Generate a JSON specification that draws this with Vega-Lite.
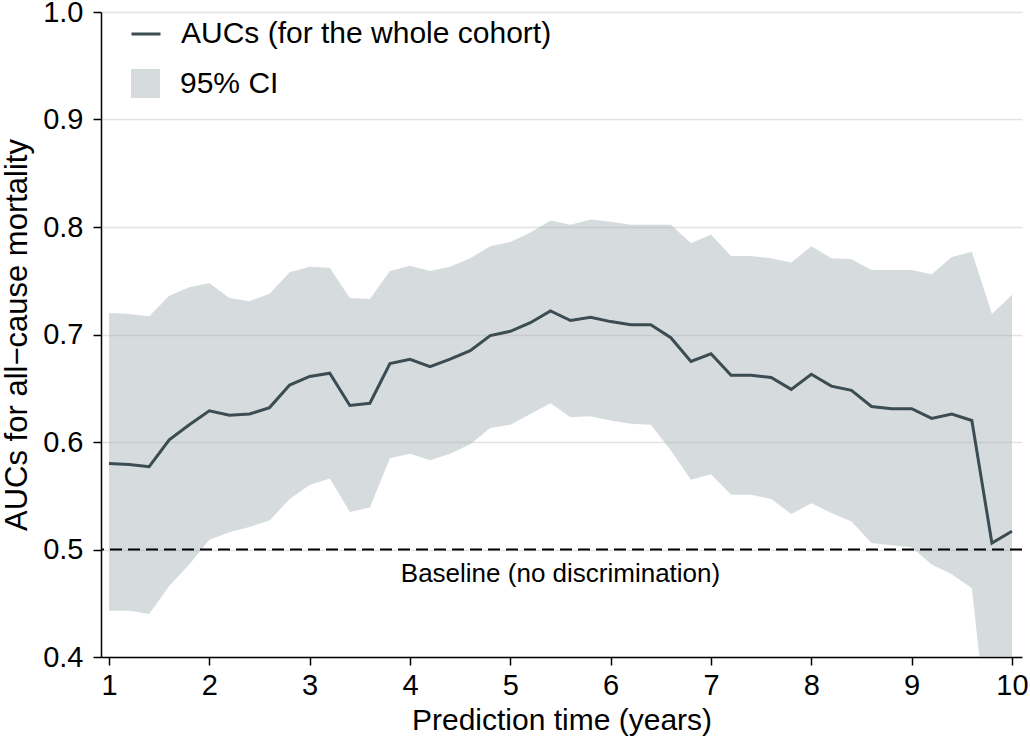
{
  "$schema": "https://vega.github.io/schema/vega-lite/v6.json",
  "width": 921,
  "height": 645,
  "autosize": "none",
  "padding": {"left": 101, "top": 12, "right": 8, "bottom": 86},
  "background": "white",
  "config": {
    "view": {"stroke": null},
    "font": "Liberation Sans",
    "axis": {
      "domainColor": "black", "domainWidth": 1.5, "tickColor": "black", "tickWidth": 1.5, "tickSize": 8,
      "labelFont": "Liberation Sans", "labelFontSize": 29, "labelColor": "black",
      "titleFont": "Liberation Sans", "titleFontSize": 30, "titleFontWeight": "normal", "titleColor": "black"
    },
    "legend": {"labelFont": "Liberation Sans", "labelFontSize": 30, "labelColor": "black", "padding": 0, "labelLimit": 600}
  },
  "datasets": {
    "auc": [
      {"t": 1.0, "auc": 0.580, "lo": 0.443, "hi": 0.720},
      {"t": 1.2, "auc": 0.579, "lo": 0.443, "hi": 0.719},
      {"t": 1.4, "auc": 0.577, "lo": 0.440, "hi": 0.717},
      {"t": 1.6, "auc": 0.602, "lo": 0.466, "hi": 0.736},
      {"t": 1.8, "auc": 0.616, "lo": 0.486, "hi": 0.744},
      {"t": 2.0, "auc": 0.629, "lo": 0.509, "hi": 0.748},
      {"t": 2.2, "auc": 0.625, "lo": 0.516, "hi": 0.734},
      {"t": 2.4, "auc": 0.626, "lo": 0.521, "hi": 0.731},
      {"t": 2.6, "auc": 0.632, "lo": 0.527, "hi": 0.738},
      {"t": 2.8, "auc": 0.653, "lo": 0.547, "hi": 0.758},
      {"t": 3.0, "auc": 0.661, "lo": 0.560, "hi": 0.763},
      {"t": 3.2, "auc": 0.664, "lo": 0.566, "hi": 0.762},
      {"t": 3.4, "auc": 0.634, "lo": 0.535, "hi": 0.734},
      {"t": 3.6, "auc": 0.636, "lo": 0.539, "hi": 0.733},
      {"t": 3.8, "auc": 0.673, "lo": 0.585, "hi": 0.759},
      {"t": 4.0, "auc": 0.677, "lo": 0.589, "hi": 0.764},
      {"t": 4.2, "auc": 0.670, "lo": 0.583, "hi": 0.759},
      {"t": 4.4, "auc": 0.677, "lo": 0.589, "hi": 0.763},
      {"t": 4.6, "auc": 0.685, "lo": 0.598, "hi": 0.771},
      {"t": 4.8, "auc": 0.699, "lo": 0.613, "hi": 0.782},
      {"t": 5.0, "auc": 0.703, "lo": 0.616, "hi": 0.786},
      {"t": 5.2, "auc": 0.711, "lo": 0.626, "hi": 0.795},
      {"t": 5.4, "auc": 0.722, "lo": 0.636, "hi": 0.806},
      {"t": 5.6, "auc": 0.713, "lo": 0.623, "hi": 0.802},
      {"t": 5.8, "auc": 0.716, "lo": 0.624, "hi": 0.807},
      {"t": 6.0, "auc": 0.712, "lo": 0.620, "hi": 0.805},
      {"t": 6.2, "auc": 0.709, "lo": 0.617, "hi": 0.802},
      {"t": 6.4, "auc": 0.709, "lo": 0.616, "hi": 0.802},
      {"t": 6.6, "auc": 0.697, "lo": 0.592, "hi": 0.802},
      {"t": 6.8, "auc": 0.675, "lo": 0.565, "hi": 0.785},
      {"t": 7.0, "auc": 0.682, "lo": 0.570, "hi": 0.793},
      {"t": 7.2, "auc": 0.662, "lo": 0.551, "hi": 0.773},
      {"t": 7.4, "auc": 0.662, "lo": 0.551, "hi": 0.773},
      {"t": 7.6, "auc": 0.660, "lo": 0.547, "hi": 0.771},
      {"t": 7.8, "auc": 0.649, "lo": 0.533, "hi": 0.767},
      {"t": 8.0, "auc": 0.663, "lo": 0.543, "hi": 0.782},
      {"t": 8.2, "auc": 0.652, "lo": 0.534, "hi": 0.771},
      {"t": 8.4, "auc": 0.648, "lo": 0.526, "hi": 0.770},
      {"t": 8.6, "auc": 0.633, "lo": 0.506, "hi": 0.760},
      {"t": 8.8, "auc": 0.631, "lo": 0.504, "hi": 0.760},
      {"t": 9.0, "auc": 0.631, "lo": 0.502, "hi": 0.760},
      {"t": 9.2, "auc": 0.622, "lo": 0.486, "hi": 0.756},
      {"t": 9.4, "auc": 0.626, "lo": 0.477, "hi": 0.772},
      {"t": 9.6, "auc": 0.620, "lo": 0.464, "hi": 0.777},
      {"t": 9.8, "auc": 0.506, "lo": 0.294, "hi": 0.719},
      {"t": 10.0, "auc": 0.517, "lo": 0.290, "hi": 0.737}
    ],
    "baseline": [
      {"t": 5.5, "v": 0.5, "label": "Baseline (no discrimination)"}
    ]
  },
  "layer": [
    {
      "data": {"name": "auc"},
      "mark": {"type": "area", "clip": true, "opacity": 0.42},
      "encoding": {
        "x": {"field": "t", "type": "quantitative", "scale": {"domain": [0.92, 10.1], "nice": false, "zero": false},
              "axis": {"values": [1,2,3,4,5,6,7,8,9,10], "format": "d", "grid": false, "title": "Prediction time (years)", "labelPadding": 6, "titlePadding": 5}},
        "y": {"field": "lo", "type": "quantitative", "scale": {"domain": [0.4, 1.0], "nice": false, "zero": false},
              "axis": {"values": [0.4,0.5,0.6,0.7,0.8,0.9,1.0], "format": ".1f", "grid": true, "gridColor": "#e3e3e3", "gridWidth": 1.5, "title": "AUCs for all−cause mortality", "titleFontSize": 31, "labelPadding": 10, "titlePadding": 9}},
        "y2": {"field": "hi"},
        "fill": {"datum": "95% CI", "type": "nominal", "scale": {"range": ["#9eabb1"]},
                 "legend": {"title": null, "orient": "none", "legendX": 29, "legendY": 56, "symbolType": "square", "symbolSize": 841, "labelOffset": 19, "symbolOpacity": 0.42}}
      }
    },
    {
      "data": {"name": "auc"},
      "mark": {"type": "line", "strokeWidth": 3},
      "encoding": {
        "x": {"field": "t", "type": "quantitative"},
        "y": {"field": "auc", "type": "quantitative"},
        "stroke": {"datum": "AUCs (for the whole cohort)", "type": "nominal", "scale": {"range": ["#3b4c53"]},
                   "legend": {"title": null, "orient": "none", "legendX": 29, "legendY": 6, "symbolType": "stroke", "symbolSize": 841, "symbolStrokeWidth": 3, "labelOffset": 19}}
      }
    },
    {
      "data": {"name": "baseline"},
      "mark": {"type": "rule", "color": "black", "strokeWidth": 2, "strokeDash": [12, 6]},
      "encoding": {"y": {"field": "v", "type": "quantitative"}}
    },
    {
      "data": {"name": "baseline"},
      "mark": {"type": "text", "fontSize": 26, "color": "black", "dy": 24, "align": "center"},
      "encoding": {
        "x": {"field": "t", "type": "quantitative"},
        "y": {"field": "v", "type": "quantitative"},
        "text": {"field": "label"}
      }
    }
  ]
}
